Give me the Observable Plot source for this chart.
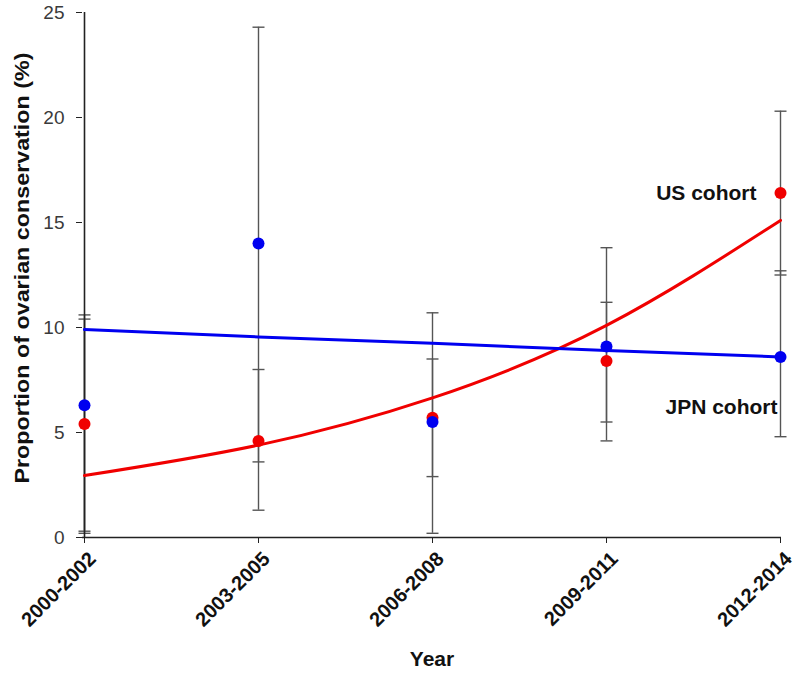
<!DOCTYPE html>
<html><head><meta charset="utf-8">
<script src="https://cdn.jsdelivr.net/npm/d3@7"></script>
<script src="https://cdn.jsdelivr.net/npm/@observablehq/plot@0.6"></script>
<style>
body{margin:0;background:#fff;}
g[aria-label="x-axis tick label"] text{font-weight:bold;}
</style></head><body><div id="chart"></div>
<script>
const periods = ["2000-2002","2003-2005","2006-2008","2009-2011","2012-2014"];
const usValues = [5.4, 4.6, 5.7, 8.4, 16.4];
const usLow = [0.2, 1.3, 2.9, 5.5, 12.5];
const usHigh = [10.6, 8.0, 8.5, 11.2, 20.3];
const usTrend = [2.95, 4.4, 6.65, 10.1, 15.1];
const jpnValues = [6.3, 14.0, 5.5, 9.1, 8.6];
const jpnLow = [0.3, 3.6, 0.2, 4.6, 4.8];
const jpnHigh = [10.4, 24.3, 10.7, 13.8, 12.7];
const jpnTrend = [9.9, 9.55, 9.25, 8.9, 8.6];
const seriesNames = ["US cohort", "JPN cohort"];
const seriesColors = ["#f00000", "#0000f0"];
const yTicks = [0, 5, 10, 15, 20, 25];
const xTitle = "Year";
const yTitle = "Proportion of ovarian conservation (%)";

const series = [
  {name: seriesNames[0], color: seriesColors[0], values: usValues, low: usLow, high: usHigh, trend: usTrend, curve: "natural"},
  {name: seriesNames[1], color: seriesColors[1], values: jpnValues, low: jpnLow, high: jpnHigh, trend: jpnTrend, curve: "linear"}
];
const rows = s => periods.map((p, i) => ({period: p, value: s.values[i], low: s.low[i], high: s.high[i], trend: s.trend[i], name: s.name}));
const capRows = series.flatMap(s => rows(s).flatMap(r => [{period: r.period, y: r.low}, {period: r.period, y: r.high}]));
const capSymbol = {draw(ctx, size) { const r = Math.sqrt(size / Math.PI); ctx.moveTo(-r, 0); ctx.lineTo(r, 0); }};
const [us, jpn] = series;
const lastOf = s => [rows(s)[periods.length - 1]];

const chart = Plot.plot({
  width: 795, height: 677,
  marginLeft: 82, marginRight: 14, marginTop: 12, marginBottom: 140,
  style: {fontFamily: "'Liberation Sans', Arial, sans-serif", fontSize: "19px", color: "#222", background: "#fff"},
  x: {type: "point", domain: periods, padding: 0, label: null},
  y: {domain: [0, 25], label: null},
  marks: [
    Plot.axisY({ticks: yTicks, tickSize: 6, tickPadding: 12, fontSize: 19, label: null, stroke: "#222", fill: "#3a3a3a"}),
    Plot.axisX({tickSize: 6, tickFormat: () => "", label: null, stroke: "#222"}),
    Plot.axisX({tickRotate: -45, tickSize: 0, tickPadding: 18, dx: 8, fontSize: 20, label: null, fill: "#111"}),
    ...series.map(s => Plot.ruleX(rows(s), {x: "period", y1: "low", y2: "high", stroke: "#555", strokeWidth: 1.4})),
    Plot.dot(capRows, {x: "period", y: "y", symbol: capSymbol, r: 6, fill: "none", stroke: "#555", strokeWidth: 1.4}),
    Plot.ruleX([periods[0]], {stroke: "#222", strokeWidth: 1.6}),
    Plot.ruleY([0], {stroke: "#222", strokeWidth: 1.6}),
    ...series.map(s => Plot.line(rows(s), {x: "period", y: "trend", stroke: s.color, strokeWidth: 3, curve: s.curve})),
    ...series.map(s => Plot.dot(rows(s), {x: "period", y: "value", fill: s.color, r: 6})),
    Plot.text(lastOf(us), {x: "period", y: "value", text: "name", textAnchor: "end", dx: -24, fontWeight: "bold", fontSize: 21, fill: "#111"}),
    Plot.text(lastOf(jpn), {x: "period", y: "value", text: "name", textAnchor: "end", dx: -3, dy: 50, fontWeight: "bold", fontSize: 21, fill: "#111"}),
    Plot.text([yTitle], {text: d => d, frameAnchor: "left", rotate: -90, dx: -60, dy: -7, textAnchor: "middle", fontWeight: "bold", fontSize: 20, fill: "#111"}),
    Plot.text([xTitle], {text: d => d, frameAnchor: "bottom", dy: 128, textAnchor: "middle", fontWeight: "bold", fontSize: 21, fill: "#111"})
  ]
});
chart.querySelectorAll("text").forEach(t => {
  if (t.textContent === yTitle) { t.setAttribute("textLength", 431); t.setAttribute("lengthAdjust", "spacingAndGlyphs"); }
});
document.getElementById("chart").append(chart);
</script></body></html>
